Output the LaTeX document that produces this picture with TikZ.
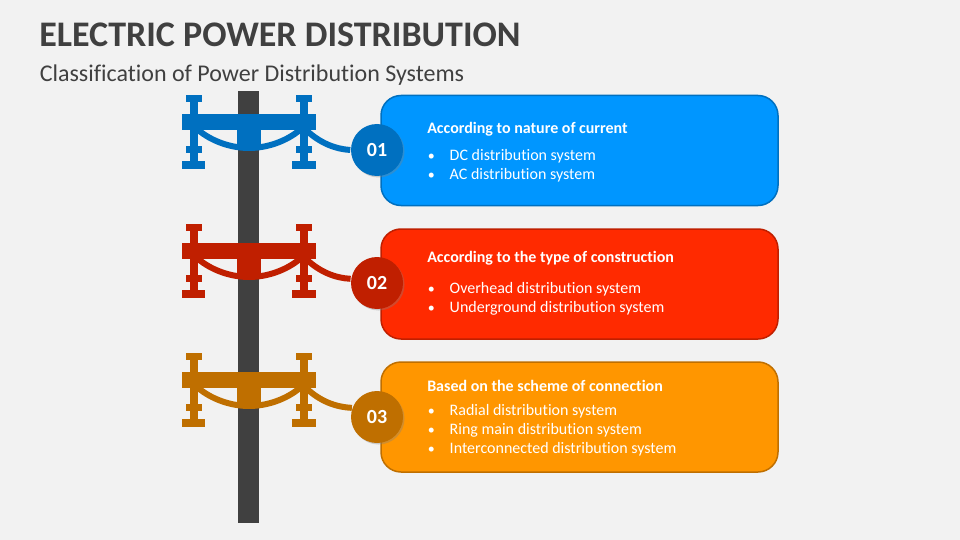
\documentclass[tikz,border=0pt]{standalone}
\usepackage{fontspec}
\setmainfont[Ligatures=NoCommon]{Carlito}
\usetikzlibrary{%
  shadows,% wg. drop shadow
  positioning
}
\definecolor{slide}{HTML}{F2F2F2}
\definecolor{ink}{HTML}{404040}
\definecolor{blueA}{HTML}{0096FF}
\definecolor{blueB}{HTML}{0070C0}
\definecolor{redA}{HTML}{FF2A00}
\definecolor{redB}{HTML}{C01F00}
\definecolor{orangeA}{HTML}{FF9600}
\definecolor{orangeB}{HTML}{BF6F00}
\newcommand{\itemdot}{{\fontsize{14}{19}\selectfont\textbullet}\hspace{15pt}}

\begin{document}
\begin{tikzpicture}
[x=1pt, y=-1pt, line width=1.5pt,
card/.style={rounded corners=20pt, minimum width=397pt, minimum height=110pt, inner sep=0pt},
badge/.style={circle, inner sep=0pt, minimum size=52pt, text=white, font=\fontsize{20}{20}\selectfont\bfseries,
  drop shadow={shadow xshift=1.5pt, shadow yshift=-1.5pt, opacity=0.35}},
heading/.style={anchor=base west, inner sep=0pt, text=white, font=\fontsize{16}{19}\selectfont\bfseries},
items/.style={anchor=north west, inner sep=0pt, align=left, text=white, font=\fontsize{16}{19}\selectfont}]

\useasboundingbox[fill=slide] (0,0) rectangle (960,540);

\node[anchor=west, inner sep=0pt, text=ink, font=\fontsize{36}{36}\selectfont\bfseries] (title) at (38.5,34.5) {ELECTRIC POWER DISTRIBUTION};
\node[anchor=west, inner sep=0pt, text=ink, font=\fontsize{24}{24}\selectfont] (subtitle) at (39,75) {Classification of Power Distribution Systems};

% pole
\fill[ink] (238,91) rectangle (259,523);

% text cards
\node[card, draw=blueB, fill=blueA] (card1) at (579.5,150.5) {};
\node[card, draw=redB, fill=redA] (card2) at (579.5,284) {};
\node[card, draw=orangeB, fill=orangeA] (card3) at (579.5,417) {};

% cross arms, insulators and badges
\foreach \i/\dy/\ypos/\shade/\ang in {1/0/150/blueB/180, 2/129/283/redB/171, 3/258/417/orangeB/160}
{
  \begin{scope}[yshift=-\dy pt, fill=\shade, draw=\shade]
  \fill (182,114) rectangle (316,130);
  \fill (237,130) rectangle (261,149);
  \foreach \xa in {194,304}
  {
    \fill (\xa-4,95) rectangle (\xa+4,161);
    \fill (\xa-8,95) rectangle (\xa+8,102);
    \fill (\xa-8,146) rectangle (\xa+8,153);
  }
  \fill (182,161) rectangle (205,169);
  \fill (292,161) rectangle (316,169);
  \draw[line width=6pt] (197,129) .. controls (212,142) and (232,148) .. (249,148)
    .. controls (266,148) and (286,142) .. (301,129);
  \coordinate (arm\i) at (306,130);
  \end{scope}
  \node[badge, fill=\shade] (badge\i) at (377,\ypos) {0\i};
  \draw[line width=6pt, draw=\shade] (arm\i) .. controls (320,\dy+143) and (335,\dy+149) .. (badge\i.\ang);
}

\node[heading] (head1) at (426.5,134) {According to nature of current};
\node[items] (list1) at (427,149) {\itemdot DC distribution system\\\itemdot AC distribution system};

\node[heading] (head2) at (426.5,262.5) {According to the type of construction};
\node[items] (list2) at (427,282) {\itemdot Overhead distribution system\\\itemdot Underground distribution system};

\node[heading] (head3) at (426.5,391.5) {Based on the scheme of connection};
\node[items] (list3) at (427,404) {\itemdot Radial distribution system\\\itemdot Ring main distribution system\\\itemdot Interconnected distribution system};
\end{tikzpicture}
\end{document}
